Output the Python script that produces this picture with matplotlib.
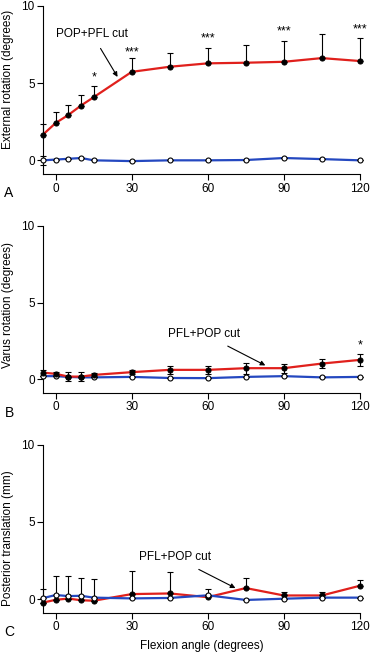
import matplotlib.pyplot as plt
import numpy as np

plt.rcParams['font.family'] = ['Liberation Sans', 'DejaVu Sans']

# flexion angles (degrees)
angles = [-5, 0, 5, 10, 15, 30, 45, 60, 75, 90, 105, 120]

# A: external rotation (degrees)
ext_cut = [1.67, 2.42, 2.94, 3.55, 4.09, 5.73, 6.06, 6.28, 6.32, 6.38, 6.62, 6.43]
ext_cut_err = [0.71, 0.72, 0.63, 0.67, 0.71, 0.87, 0.91, 1.01, 1.17, 1.37, 1.56, 1.47]
ext_int = [0.0, 0.05, 0.1, 0.15, 0.0, -0.05, 0.0, 0.0, 0.02, 0.15, 0.08, 0.0]
ext_int_err = [0.3, 0, 0, 0, 0, 0, 0, 0, 0, 0, 0, 0]

# B: varus rotation (degrees)
var_cut = [0.43, 0.35, 0.17, 0.17, 0.28, 0.46, 0.61, 0.61, 0.72, 0.72, 1.02, 1.26]
var_cut_err = [0.2, 0.15, 0.3, 0.3, 0.15, 0.15, 0.25, 0.25, 0.35, 0.3, 0.3, 0.4]
var_int = [0.2, 0.2, 0.15, 0.12, 0.12, 0.15, 0.08, 0.07, 0.15, 0.2, 0.12, 0.15]

# C: posterior translation (mm)
pt_cut = [-0.22, -0.04, 0.04, -0.07, -0.1, 0.33, 0.37, 0.13, 0.72, 0.24, 0.24, 0.87]
pt_cut_err = [0, 0, 0, 0, 0, 1.52, 1.37, 0.52, 0.63, 0.24, 0.24, 0.39]
pt_int = [0.07, 0.27, 0.2, 0.22, 0.1, 0.05, 0.08, 0.25, -0.05, 0.03, 0.1, 0.1]
pt_int_err = [0.58, 1.21, 1.32, 1.15, 1.2, 0, 0, 0, 0, 0, 0, 0]

# significance marks (angle, y, text)
stars_a = [(15, 5.35, '*'), (30, 7.0, '***'), (60, 7.9, '***'), (90, 8.35, '***'), (120, 8.5, '***')]
stars_b = [(120, 2.2, '*')]

red = '#e0201c'
blue = '#2448c0'

fig = plt.figure(figsize=(3.71, 6.55), dpi=100)
boxes = [[0.116, 0.734, 0.854, 0.257],
         [0.116, 0.400, 0.854, 0.255],
         [0.116, 0.064, 0.854, 0.257]]
axs = [fig.add_axes(b) for b in boxes]


def style(ax):
    ax.set_xlim(-5, 120)
    ax.set_ylim(-0.9, 10)
    ax.spines['top'].set_visible(False)
    ax.spines['right'].set_visible(False)
    ax.set_xticks([0, 30, 60, 90, 120])
    ax.set_yticks([0, 5, 10])
    ax.tick_params(labelsize=8.5, length=4, width=0.8, direction='out', pad=2)
    for s in ax.spines.values():
        s.set_linewidth(0.8)


def series(ax, y, lo, hi, color, filled):
    eb = ax.errorbar(angles, y, yerr=[lo, hi], fmt='none', ecolor='black',
                     elinewidth=0.8, capsize=2, capthick=0.8, zorder=3)
    for art in eb.lines[1] + eb.lines[2]:
        art.set_clip_on(False)
    ax.plot(angles, y, color=color, lw=1.6, zorder=2)
    ax.plot(angles, y, 'o', ms=3.6, mec='black', mew=0.8,
            mfc='black' if filled else 'white', zorder=4, clip_on=False)


zeros = [0] * len(angles)
arrow = dict(arrowstyle='-|>', color='black', lw=0.8, mutation_scale=7, shrinkA=5, shrinkB=0)

# A
ax = axs[0]
style(ax)
series(ax, ext_int, ext_int_err, ext_int_err, blue, False)
series(ax, ext_cut, zeros, ext_cut_err, red, True)
for x, y, t in stars_a:
    ax.text(x, y, t, ha='center', va='center', fontsize=9)
ax.annotate('POP+PFL cut', xy=(24.4, 5.4), xytext=(14.2, 8.2), ha='center', va='center',
            fontsize=8.5, arrowprops=arrow)

# B
ax = axs[1]
style(ax)
series(ax, var_int, zeros, zeros, blue, False)
series(ax, var_cut, var_cut_err, var_cut_err, red, True)
for x, y, t in stars_b:
    ax.text(x, y, t, ha='center', va='center', fontsize=9)
ax.annotate('PFL+POP cut', xy=(82.7, 0.9), xytext=(58.7, 2.94), ha='center', va='center',
            fontsize=8.5, arrowprops=arrow)

# C
ax = axs[2]
style(ax)
series(ax, pt_cut, zeros, pt_cut_err, red, True)
series(ax, pt_int, zeros, pt_int_err, blue, False)
ax.annotate('PFL+POP cut', xy=(70.9, 0.72), xytext=(47.2, 2.7), ha='center', va='center',
            fontsize=8.5, arrowprops=arrow)

# labels
fig.text(8 / 371, 1 - 79 / 655, 'External rotation (degrees)', rotation=90,
         ha='center', va='center', fontsize=8.5)
fig.text(8 / 371, 1 - 305 / 655, 'Varus rotation (degrees)', rotation=90,
         ha='center', va='center', fontsize=8.5)
fig.text(8 / 371, 1 - 538 / 655, 'Posterior translation (mm)', rotation=90,
         ha='center', va='center', fontsize=8.5)
fig.text(202 / 371, 1 - 646 / 655, 'Flexion angle (degrees)', ha='center', va='center',
         fontsize=8.5)
for letter, ypx in zip('ABC', [193, 413, 632]):
    fig.text(9 / 371, 1 - ypx / 655, letter, ha='center', va='center', fontsize=10)

fig.savefig('out.png', dpi=100)
